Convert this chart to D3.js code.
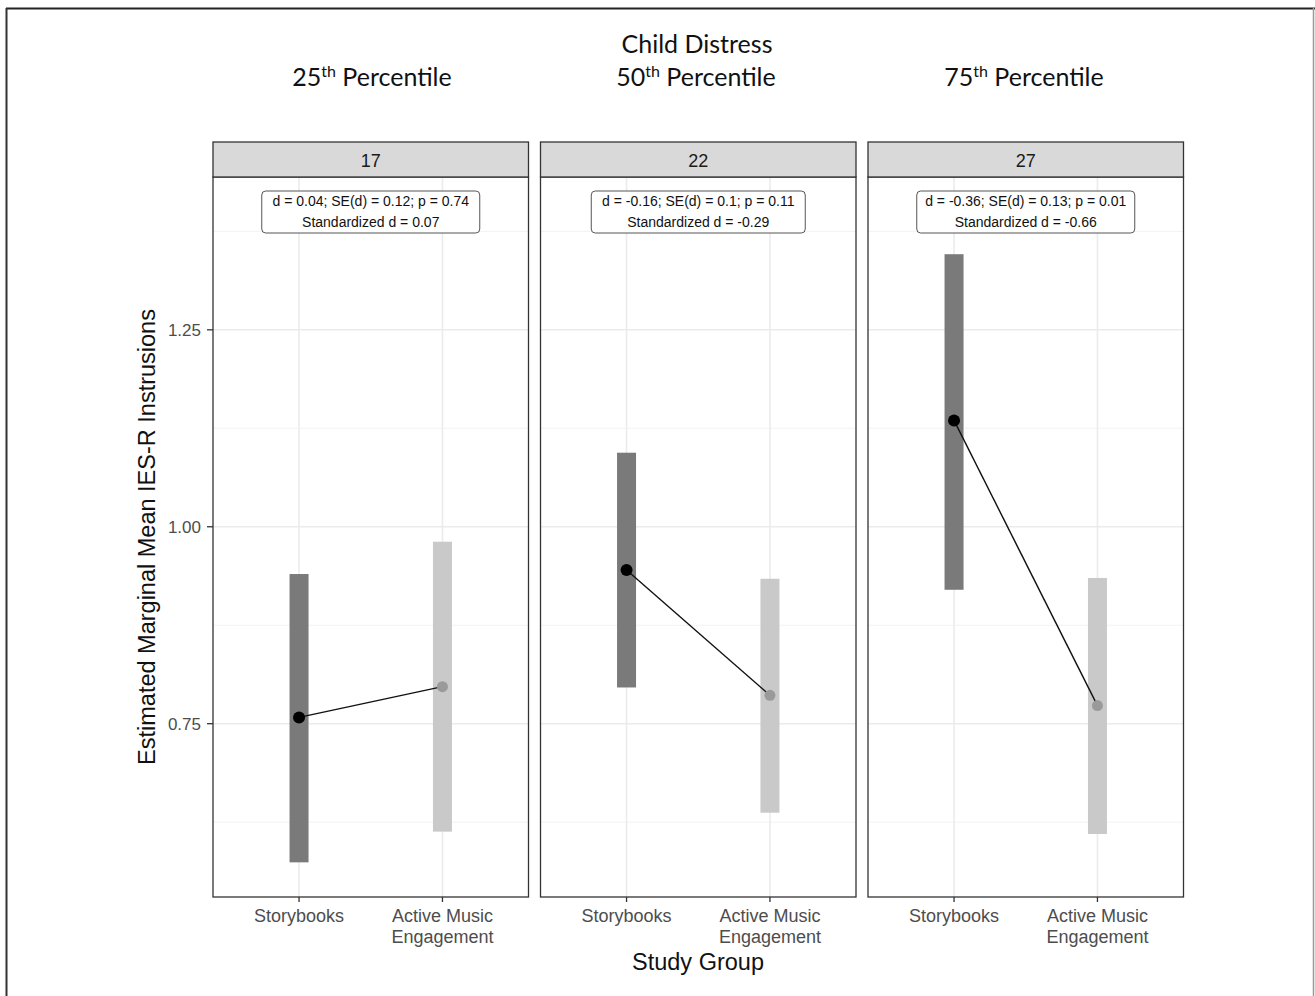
<!DOCTYPE html>
<html>
<head>
<meta charset="utf-8">
<script src="https://cdn.jsdelivr.net/npm/d3@7"></script>
<style>
  body { margin: 0; background: #fff; }
  svg { display: block; }
</style>
</head>
<body>
<div id="chart"></div>
<script>
// data
var panels = ["17", "22", "27"];
var percentiles = ["25", "50", "75"];
var groups = ["Storybooks", "Active Music Engagement"];
var groupLines = [["Storybooks"], ["Active Music", "Engagement"]];
var means = [[0.758, 0.797], [0.945, 0.786], [1.135, 0.773]];
var lower = [[0.574, 0.613], [0.796, 0.637], [0.920, 0.610]];
var upper = [[0.940, 0.981], [1.094, 0.934], [1.346, 0.935]];
var labels1 = ["d = 0.04; SE(d) = 0.12; p = 0.74",
               "d = -0.16; SE(d) = 0.1; p = 0.11",
               "d = -0.36; SE(d) = 0.13; p = 0.01"];
var labels2 = ["Standardized d = 0.07",
               "Standardized d = -0.29",
               "Standardized d = -0.66"];
var yTicks = [0.75, 1.00, 1.25];
var yMinor = [0.625, 0.875, 1.125, 1.375];

var W = 1315, H = 996;
var panelLeft = [213, 540.5, 868];
var panelW = 315.5;
var stripTop = 142, stripH = 35;
var plotTop = 177, plotBottom = 897;

var svg = d3.select("#chart").append("svg")
    .attr("width", W).attr("height", H);

// outer frame
svg.append("line").attr("x1", 6).attr("x2", 1315).attr("y1", 8.5).attr("y2", 8.5)
    .attr("stroke", "#222").attr("stroke-width", 2);
svg.append("line").attr("x1", 6.5).attr("x2", 6.5).attr("y1", 8).attr("y2", H)
    .attr("stroke", "#333").attr("stroke-width", 2);
svg.append("line").attr("x1", 1313.5).attr("x2", 1313.5).attr("y1", 8).attr("y2", H)
    .attr("stroke", "#999").attr("stroke-width", 1.5);

var hdrFont = "Lato, 'Open Sans', sans-serif";
svg.append("text").attr("x", 697).attr("y", 53)
    .attr("text-anchor", "middle").attr("font-family", hdrFont)
    .attr("font-size", 25).attr("fill", "#111").text("Child Distress");

var hdrX = [372, 696, 1024];
percentiles.forEach(function(p, i){
    var t = svg.append("text").attr("x", hdrX[i]).attr("y", 86)
	.attr("text-anchor", "middle").attr("font-family", hdrFont)
	.attr("font-size", 25).attr("fill", "#111");
    t.append("tspan").text(p);
    t.append("tspan").attr("dy", -9).attr("font-size", 16).text("th");
    t.append("tspan").attr("dy", 9).text(" Percentile");
});

var y = d3.scaleLinear().domain([0.53, 1.444]).range([plotBottom, plotTop]);

var axFont = "Arial, 'Liberation Sans', sans-serif";

panels.forEach(function(name, i){
    var x0 = panelLeft[i];
    // discrete axis with 0.6 expansion on each side
    var x = d3.scaleLinear().domain([0.4, 2.6]).range([x0, x0 + panelW]);
    var g = svg.append("g");

    // minor grid
    g.selectAll(".ymin").data(yMinor).enter().append("line")
	.attr("x1", x0).attr("x2", x0 + panelW)
	.attr("y1", function(d){ return y(d); }).attr("y2", function(d){ return y(d); })
	.attr("stroke", "#f2f2f2").attr("stroke-width", 1);
    // major grid
    g.selectAll(".ymaj").data(yTicks).enter().append("line")
	.attr("x1", x0).attr("x2", x0 + panelW)
	.attr("y1", function(d){ return y(d); }).attr("y2", function(d){ return y(d); })
	.attr("stroke", "#ebebeb").attr("stroke-width", 1.6);
    g.selectAll(".xmaj").data([1, 2]).enter().append("line")
	.attr("x1", function(d){ return x(d); }).attr("x2", function(d){ return x(d); })
	.attr("y1", plotTop).attr("y2", plotBottom)
	.attr("stroke", "#ebebeb").attr("stroke-width", 1.6);

    // CI bars
    var bw = 19;
    var fills = ["#7a7a7a", "#c9c9c9"];
    [0, 1].forEach(function(k){
	g.append("rect")
	    .attr("x", x(k + 1) - bw / 2).attr("width", bw)
	    .attr("y", y(upper[i][k]))
	    .attr("height", y(lower[i][k]) - y(upper[i][k]))
	    .attr("fill", fills[k]);
    });

    // connecting line
    g.append("line")
	.attr("x1", x(1)).attr("y1", y(means[i][0]))
	.attr("x2", x(2)).attr("y2", y(means[i][1]))
	.attr("stroke", "#111").attr("stroke-width", 1.4);

    g.append("circle").attr("cx", x(1)).attr("cy", y(means[i][0]))
	.attr("r", 6).attr("fill", "#000");
    g.append("circle").attr("cx", x(2)).attr("cy", y(means[i][1]))
	.attr("r", 5.5).attr("fill", "#9a9a9a");

    // annotation box
    var cx = x0 + panelW / 2;
    var bwid = [218, 214, 218][i];
    g.append("rect").attr("x", cx - bwid / 2).attr("y", 191)
	.attr("width", bwid).attr("height", 42).attr("rx", 4)
	.attr("fill", "#fff").attr("stroke", "#555").attr("stroke-width", 1);
    g.append("text").attr("x", cx).attr("y", 206)
	.attr("text-anchor", "middle").attr("font-family", axFont)
	.attr("font-size", 14).attr("fill", "#111").text(labels1[i]);
    g.append("text").attr("x", cx).attr("y", 227)
	.attr("text-anchor", "middle").attr("font-family", axFont)
	.attr("font-size", 14).attr("fill", "#111").text(labels2[i]);

    // panel border
    g.append("rect").attr("x", x0).attr("y", plotTop)
	.attr("width", panelW).attr("height", plotBottom - plotTop)
	.attr("fill", "none").attr("stroke", "#333").attr("stroke-width", 1.3);

    // strip
    g.append("rect").attr("x", x0).attr("y", stripTop)
	.attr("width", panelW).attr("height", stripH)
	.attr("fill", "#d9d9d9").attr("stroke", "#333").attr("stroke-width", 1.3);
    g.append("text").attr("x", cx).attr("y", stripTop + stripH / 2 + 7)
	.attr("text-anchor", "middle").attr("font-family", axFont)
	.attr("font-size", 18).attr("fill", "#1a1a1a").text(name);

    // x axis
    var xa = g.append("g").attr("transform", "translate(0," + plotBottom + ")");
    [1, 2].forEach(function(k){
	xa.append("line").attr("x1", x(k)).attr("x2", x(k)).attr("y1", 0).attr("y2", 5)
	    .attr("stroke", "#333").attr("stroke-width", 1.3);
	var t = xa.append("text").attr("x", x(k)).attr("y", 25)
	    .attr("text-anchor", "middle").attr("font-family", axFont)
	    .attr("font-size", 18).attr("fill", "#4d4d4d");
	groupLines[k - 1].forEach(function(s, j){
	    t.append("tspan").attr("x", x(k)).attr("dy", j === 0 ? 0 : 20.5).text(s);
	});
    });
});

// y axis
var ya = svg.append("g").attr("transform", "translate(" + panelLeft[0] + ",0)");
yTicks.forEach(function(v){
    ya.append("line").attr("x1", -6).attr("x2", 0).attr("y1", y(v)).attr("y2", y(v))
	.attr("stroke", "#333").attr("stroke-width", 1.3);
    ya.append("text").attr("x", -12).attr("y", y(v) + 6)
	.attr("text-anchor", "end").attr("font-family", axFont)
	.attr("font-size", 17).attr("fill", "#4d4d4d").text(d3.format(".2f")(v));
});

svg.append("text")
    .attr("transform", "translate(155," + ((plotTop + plotBottom) / 2) + ") rotate(-90)")
    .attr("text-anchor", "middle").attr("font-family", axFont)
    .attr("font-size", 23.5).attr("fill", "#111")
    .text("Estimated Marginal Mean IES-R Instrusions");

svg.append("text").attr("x", 698).attr("y", 970)
    .attr("text-anchor", "middle").attr("font-family", axFont)
    .attr("font-size", 23.5).attr("fill", "#111").text("Study Group");
</script>
</body>
</html>
